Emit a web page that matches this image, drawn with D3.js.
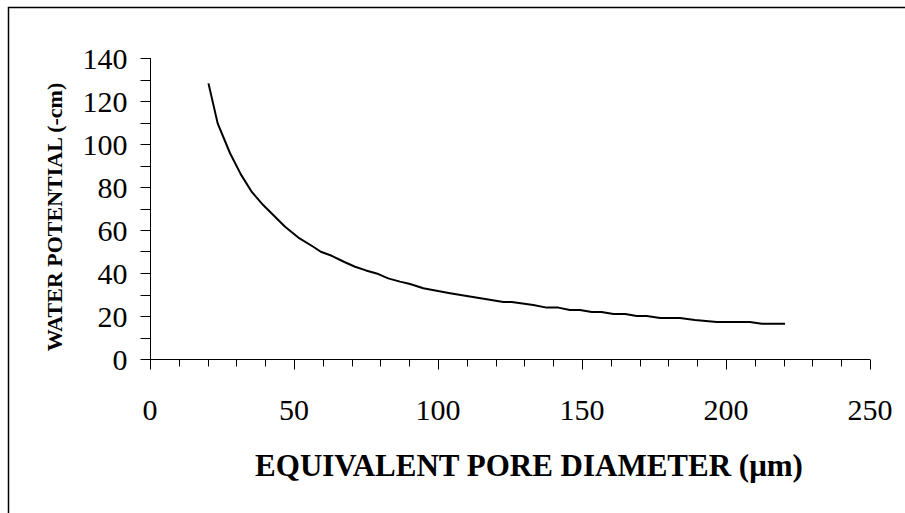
<!DOCTYPE html>
<html lang="en">
<head>
    <meta charset="UTF-8">
    <script src="https://d3js.org/d3.v7.min.js" charset="utf-8"></script>
    <title>Water potential vs pore diameter</title>
    <style>
        body { margin: 0; background: #fff; }
        text { font-family: "Liberation Serif", "Times New Roman", serif; fill: #000; }
    </style>
</head>
<body>
    <div id="chart"></div>
    <script>
        // pore diameter (µm) and water potential (-cm)
        const diameter = [20.3, 23.5, 27.8, 31.5, 35.3, 39.3, 46.9, 51.5, 56.7, 59.3, 63.1, 67.7, 71.2, 75.0,
            79.3, 82.7, 86.8, 90.3, 94.9, 99.5, 104.2, 110.0, 116.9, 122.7, 125.6, 133.1, 137.7, 141.8,
            145.8, 149.3, 153.4, 156.8, 160.9, 165.0, 169.0, 172.5, 177.1, 184.0, 189.2, 196.8, 208.3,
            212.4, 220.5];
        const potential = [128.2, 109.6, 95.7, 86.0, 77.8, 71.6, 61.5, 56.5, 52.2, 49.9, 48.0, 45.0, 42.9, 41.2,
            39.5, 37.5, 36.0, 34.9, 32.9, 31.7, 30.6, 29.3, 27.8, 26.5, 26.5, 25.1, 23.9, 23.9,
            22.8, 22.8, 21.9, 21.9, 20.9, 20.9, 20.0, 20.0, 19.1, 19.1, 18.1, 17.2, 17.2,
            16.4, 16.4];
        const xTicks = [0, 50, 100, 150, 200, 250];
        const yTicks = [0, 20, 40, 60, 80, 100, 120, 140];

        const width = 905, height = 513;
        const svg = d3.select("#chart").append("svg")
            .attr("width", width)
            .attr("height", height);

        // outer frame (right and bottom edges fall outside the picture)
        svg.append("rect")
            .attr("x", 8.5).attr("y", 7.5)
            .attr("width", 920).attr("height", 530)
            .attr("fill", "none")
            .attr("stroke", "#000")
            .attr("stroke-width", 1.5);

        const x = d3.scaleLinear().domain([0, 250]).range([150, 870]);
        const y = d3.scaleLinear().domain([0, 140]).range([359, 58]);

        // x axis: minor ticks every 10, longer major ticks every 50
        const gx = svg.append("g").attr("transform", "translate(0,359.5)");
        gx.append("line").attr("x1", x(0)).attr("x2", x(250)).attr("stroke", "#000");
        gx.selectAll("line.tk").data(d3.range(0, 251, 10)).enter().append("line")
            .attr("class", "tk")
            .attr("x1", d => Math.round(x(d)) + 0.5).attr("x2", d => Math.round(x(d)) + 0.5)
            .attr("y1", 0).attr("y2", d => d % 50 === 0 ? 10 : 7)
            .attr("stroke", "#000");
        gx.selectAll("text").data(xTicks).enter().append("text")
            .attr("x", d => x(d)).attr("y", 60)
            .attr("text-anchor", "middle")
            .style("font-size", "30px")
            .text(d => d);

        // y axis
        const gy = svg.append("g").attr("transform", "translate(150.5,0)");
        gy.append("line").attr("y1", y(0)).attr("y2", y(140)).attr("stroke", "#000");
        gy.selectAll("line.tk").data(d3.range(0, 141, 10)).enter().append("line")
            .attr("class", "tk")
            .attr("y1", d => Math.round(y(d)) + 0.5).attr("y2", d => Math.round(y(d)) + 0.5)
            .attr("x1", -10).attr("x2", 0)
            .attr("stroke", "#000");
        gy.selectAll("text").data(yTicks).enter().append("text")
            .attr("x", -23).attr("y", d => y(d) + 10.5)
            .attr("text-anchor", "end")
            .style("font-size", "30px")
            .text(d => d);

        // curve
        const pts = diameter.map((d, i) => [d, potential[i]]);
        svg.append("path")
            .datum(pts)
            .attr("fill", "none")
            .attr("stroke", "#000")
            .attr("stroke-width", 2)
            .attr("stroke-linejoin", "round")
            .attr("d", d3.line().x(d => x(d[0])).y(d => y(d[1])));

        // axis titles
        svg.append("text")
            .attr("x", 529).attr("y", 476)
            .attr("text-anchor", "middle")
            .style("font-size", "31px")
            .style("font-weight", "bold")
            .text("EQUIVALENT PORE DIAMETER (\u03bcm)");

        svg.append("text")
            .attr("transform", "translate(62,217) rotate(-90)")
            .attr("text-anchor", "middle")
            .style("font-size", "22px")
            .style("font-weight", "bold")
            .text("WATER POTENTIAL (-cm)");
    </script>
</body>
</html>
